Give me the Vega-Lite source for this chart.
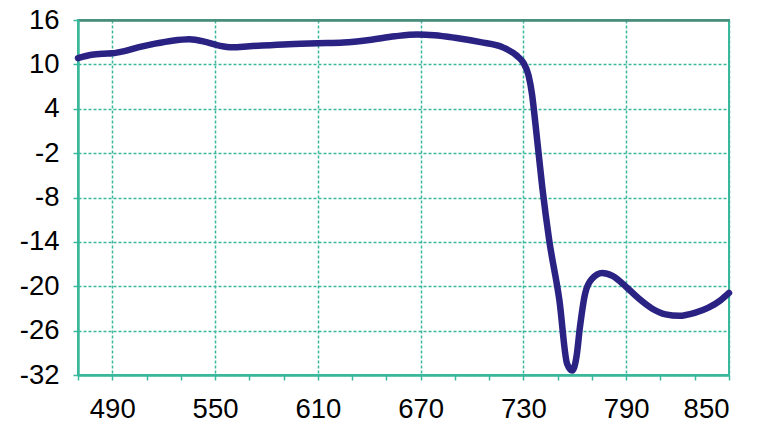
{
  "$schema": "https://vega.github.io/schema/vega-lite/v6.json",
  "autosize": "none",
  "width": 651,
  "height": 355,
  "padding": {"left": 78, "top": 20, "right": 35, "bottom": 55},
  "background": "white",
  "config": {
    "view": {"stroke": "#3bb89c", "strokeWidth": 2}
  },
  "data": {"values": [
    {"x": 470, "y": 10.85},
    {"x": 478, "y": 11.3},
    {"x": 485, "y": 11.45},
    {"x": 490, "y": 11.5},
    {"x": 497, "y": 11.8},
    {"x": 505, "y": 12.3},
    {"x": 515, "y": 12.8},
    {"x": 525, "y": 13.2},
    {"x": 535, "y": 13.4},
    {"x": 545, "y": 13.0},
    {"x": 553, "y": 12.5},
    {"x": 560, "y": 12.3},
    {"x": 570, "y": 12.45},
    {"x": 590, "y": 12.7},
    {"x": 610, "y": 12.85},
    {"x": 625, "y": 12.95},
    {"x": 640, "y": 13.3},
    {"x": 655, "y": 13.8},
    {"x": 668, "y": 14.05},
    {"x": 678, "y": 13.95},
    {"x": 690, "y": 13.6},
    {"x": 705, "y": 13.0},
    {"x": 718, "y": 12.3},
    {"x": 726, "y": 11.2},
    {"x": 730, "y": 10.2},
    {"x": 733, "y": 8.5},
    {"x": 735, "y": 6.0},
    {"x": 737, "y": 2.0},
    {"x": 741, "y": -6.6},
    {"x": 745, "y": -13.7},
    {"x": 751, "y": -21.9},
    {"x": 755.5, "y": -30.5},
    {"x": 758.5, "y": -31.4},
    {"x": 761, "y": -29.5},
    {"x": 763, "y": -25.5},
    {"x": 766, "y": -21},
    {"x": 770, "y": -19},
    {"x": 776, "y": -18.2},
    {"x": 782, "y": -18.6},
    {"x": 790, "y": -20.1},
    {"x": 797, "y": -21.6},
    {"x": 805, "y": -23.0},
    {"x": 813, "y": -23.8},
    {"x": 821, "y": -24.0},
    {"x": 830, "y": -23.6},
    {"x": 838, "y": -22.9},
    {"x": 845, "y": -21.9},
    {"x": 850, "y": -20.9}
  ]},
  "layer": [
    {
      "mark": {"type": "line", "opacity": 0},
      "encoding": {
        "x": {"field": "x", "type": "quantitative", "scale": {"domain": [470, 850], "nice": false, "zero": false},
          "axis": {"orient": "top", "title": null, "labels": false, "ticks": false, "grid": false, "domainColor": "#4a8a78", "domainWidth": 2.5}},
        "y": {"field": "y", "type": "quantitative", "scale": {"domain": [-32, 16], "nice": false, "zero": false}}
      }
    },
    {
      "mark": {"type": "line", "color": "#2a2384", "strokeWidth": 6.5, "interpolate": "monotone", "strokeCap": "round", "strokeJoin": "round"},
      "encoding": {
        "x": {"field": "x", "type": "quantitative", "scale": {"domain": [470, 850], "nice": false, "zero": false},
          "axis": {
            "orient": "bottom", "title": null,
            "values": [470, 490, 510, 530, 550, 570, 590, 610, 630, 650, 670, 690, 710, 730, 750, 770, 790, 810, 830, 850],
            "labelExpr": "(datum.value - 490) % 60 === 0 ? toString(datum.value) : ''",
            "labelFont": "Liberation Sans", "labelFontSize": 27.5, "labelColor": "black",
            "labelPadding": 15,
            "tickSize": 5, "tickColor": "#3bb89c", "tickWidth": 1.5,
            "domainColor": "#3bb89c", "domainWidth": 2.5,
            "grid": true, "gridColor": "#3bb89c", "gridDash": [3, 2], "gridWidth": 1.5,
            "gridOpacity": {"condition": {"test": "(datum.value - 490) % 60 === 0", "value": 1}, "value": 0}
          }},
        "y": {"field": "y", "type": "quantitative", "scale": {"domain": [-32, 16], "nice": false, "zero": false},
          "axis": {
            "title": null,
            "values": [-32, -29, -26, -23, -20, -17, -14, -11, -8, -5, -2, 1, 4, 7, 10, 13, 16],
            "labelExpr": "(datum.value + 32) % 6 === 0 ? toString(datum.value) : ''",
            "labelFont": "Liberation Sans", "labelFontSize": 27.5, "labelColor": "black",
            "labelPadding": 14,
            "tickSize": 5, "tickColor": "#3bb89c", "tickWidth": 1.5,
            "domainColor": "#3bb89c", "domainWidth": 2.5,
            "grid": true, "gridColor": "#3bb89c", "gridDash": [3, 2], "gridWidth": 1.5,
            "gridOpacity": {"condition": {"test": "(datum.value + 32) % 6 === 0", "value": 1}, "value": 0}
          }}
      }
    }
  ],
  "resolve": {"axis": {"x": "independent"}}
}
